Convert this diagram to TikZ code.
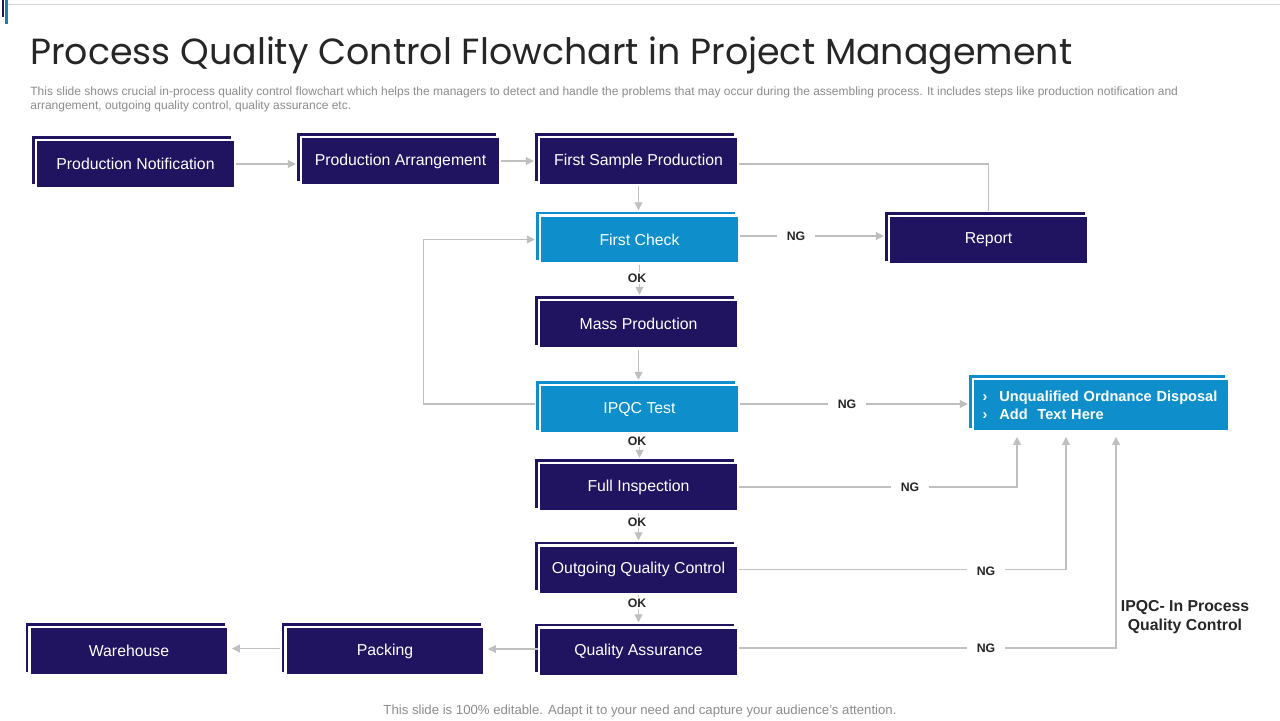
\documentclass[tikz,border=0pt]{standalone}
\usepackage{fontspec}
\setmainfont{Liberation Sans}
\newfontfamily\titlefont{Poppins}
\usetikzlibrary{arrows.meta, shadows}

\definecolor{navy}{HTML}{201461}
\definecolor{skyblue}{HTML}{0E8FCB}
\definecolor{linegrey}{HTML}{BFBFBF}
\definecolor{textgrey}{HTML}{8C8C8C}
\definecolor{darktext}{HTML}{262626}
\definecolor{tealbar}{HTML}{1F7FA8}

\tikzset{
  darkbox/.style={draw=white, line width=0.05cm, fill=navy, text=white,
    minimum width=3.99cm, minimum height=0.97cm, inner sep=0pt,
    font=\fontsize{9}{11}\selectfont,
    copy shadow={shadow xshift=-0.075cm, shadow yshift=0.075cm, fill=navy, draw=none}},
  bluebox/.style={darkbox, fill=skyblue,
    copy shadow={shadow xshift=-0.075cm, shadow yshift=0.075cm, fill=skyblue, draw=none}},
  flow/.style={draw=linegrey, line width=0.6pt, shorten >=0.075cm,
    -{Triangle[width=4.5pt, length=4.5pt]}},
  link/.style={draw=linegrey, line width=0.6pt},
  flag/.style={fill=white, text=darktext, inner xsep=0.2cm, inner ysep=1pt,
    font=\bfseries\fontsize{7}{8}\selectfont},
}

\begin{document}
\begin{tikzpicture}[x=0.02cm, y=-0.02cm]
\fill[white] (0,0) rectangle (1280,720);
\useasboundingbox (0,0) rectangle (1280,720);

% top strip
\draw[linegrey!70, line width=0.8pt] (8,4.5) -- (1280,4.5);
\fill[navy] (2,0) rectangle (4,17);
\fill[tealbar] (5,0) rectangle (7.5,24);

% heading
\node[anchor=base west, inner sep=0pt, text=darktext,
  font=\titlefont\fontsize{20.7}{25}\selectfont] (title) at (30,64)
  {Process Quality Control Flowchart in Project Management};
\node[anchor=north west, inner sep=0pt, align=left, text=textgrey,
  font=\fontsize{6.83}{8}\selectfont] (intro) at (30,86)
  {This slide shows crucial in-process quality control flowchart which helps the managers to detect and handle the problems that may occur during the assembling process. It includes steps like production notification and\\
   arrangement, outgoing quality control, quality assurance etc.};

% process steps
\node[darkbox] (pn) at (135.5,164) {Production Notification};
\node[darkbox] (pa) at (400.5,161) {Production Arrangement};
\node[darkbox] (fsp) at (638.5,161) {First Sample Production};
\node[bluebox] (fc) at (639.5,239.5) {First Check};
\node[darkbox] (rep) at (988.5,240) {Report};
\node[darkbox] (mp) at (638.5,324) {Mass Production};
\node[bluebox] (ipqc) at (639.5,409) {IPQC Test};
\node[darkbox] (fi) at (638.5,487) {Full Inspection};
\node[darkbox] (oqc) at (638.5,569.5) {Outgoing Quality Control};
\node[darkbox] (qa) at (638.5,651.5) {Quality Assurance};
\node[darkbox] (pk) at (385,651) {Packing};
\node[darkbox] (wh) at (129,651) {Warehouse};
\node[bluebox, minimum width=5.13cm, minimum height=1.05cm, text width=4.74cm,
  align=left, font=\bfseries\fontsize{8.3}{10.2}\selectfont] (uq) at (1101,405)
  {\mbox{\makebox[9.6pt][l]{›}Unqualified Ordnance Disposal}\\
   \mbox{\makebox[9.6pt][l]{›}Add\ \ Text Here}};

% entry points below the disposal box
\coordinate (inA) at (1017,430);
\coordinate (inB) at (1066,430);
\coordinate (inC) at (1116,430);

% connectors
\draw[flow] (pn.east) -- (pn.east -| pa.west);
\draw[flow] (pa.east) -- (pa.east -| fsp.west);
\draw[flow] (fsp.south) -- (fsp.south |- fc.north);
\draw[link, shorten >=0.075cm] ([yshift=-0.06cm]fsp.east) -| (rep.north);
\draw[flow] ([yshift=0.07cm]fc.east) -- ([yshift=0.07cm]fc.east -| rep.west);
\draw[flow] (fc.south) -- (fc.south |- mp.north);
\draw[flow] (mp.south) -- (mp.south |- ipqc.north);
\draw[flow, shorten <=0.075cm] ([yshift=0.1cm]ipqc.west) -- ++(-115,0) |- (fc.west);
\draw[flow] ([yshift=0.1cm]ipqc.east) -- ([yshift=0.1cm]ipqc.east -| uq.west);
\draw[flow] (ipqc.south) -- (ipqc.south |- fi.north);
\draw[flow, shorten >=0.14cm] (fi.east) -| (inA);
\draw[flow] (fi.south) -- (fi.south |- oqc.north);
\draw[flow, shorten >=0.14cm] (oqc.east) -| (inB);
\draw[flow] (oqc.south) -- (oqc.south |- qa.north);
\draw[flow, shorten >=0.14cm] ([yshift=0.07cm]qa.east) -| (inC);
\draw[flow, shorten >=0.04cm] ([yshift=0.05cm]qa.west) -- ([yshift=0.05cm]qa.west -| pk.east);
\draw[flow, shorten <=0.075cm, shorten >=0.04cm] ([yshift=0.05cm]pk.west) -- ([yshift=0.05cm]pk.west -| wh.east);

% OK / NG labels
\node[flag] (ng1) at (796,236) {NG};
\node[flag] (ok1) at (637,278) {OK};
\node[flag] (ng2) at (847,404) {NG};
\node[flag] (ok2) at (637,441) {OK};
\node[flag] (ng3) at (910,487) {NG};
\node[flag] (ok3) at (637,522) {OK};
\node[flag] (ng4) at (986,571) {NG};
\node[flag] (ok4) at (637,603) {OK};
\node[flag] (ng5) at (986,648) {NG};

\node[align=center, text=darktext, inner sep=0pt,
  font=\bfseries\fontsize{9}{11}\selectfont] (legend) at (1185,617)
  {IPQC- In Process\\Quality Control};

% footer
\node[text=textgrey, inner sep=0pt, font=\fontsize{7.5}{9}\selectfont] (foot) at (640,711)
  {This slide is 100\% editable. Adapt it to your need and capture your audience’s attention.};
\end{tikzpicture}
\end{document}
